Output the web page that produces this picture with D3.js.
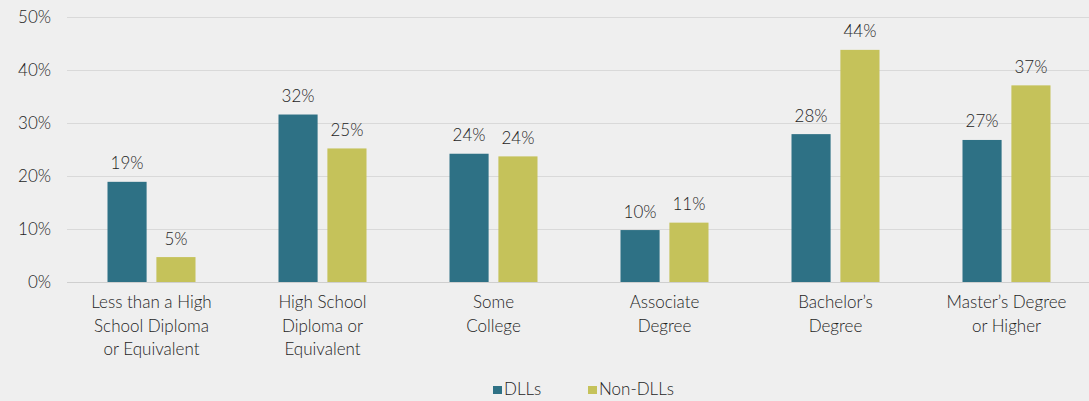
<!DOCTYPE html>
<html>
<head>
<meta charset="utf-8">
<script src="https://cdn.jsdelivr.net/npm/d3@7"></script>
<style>
  html, body { margin: 0; padding: 0; background: #efefef; }
  #chart { width: 1089px; height: 401px; }
  text { font-family: Lato, "Open Sans", sans-serif; font-weight: 300; fill: #1e1e1e; }
</style>
</head>
<body>
<div id="chart"></div>
<script>
// education levels, share of parents
const categories = [
  ['Less than a High', 'School Diploma', 'or Equivalent'],
  ['High School', 'Diploma or', 'Equivalent'],
  ['Some', 'College'],
  ['Associate', 'Degree'],
  ['Bachelor\u2019s', 'Degree'],
  ['Master\u2019s Degree', 'or Higher']
];
const seriesNames = ['DLLs', 'Non-DLLs'];
const dllValues = [18.9, 31.6, 24.2, 9.8, 27.9, 26.8];
const nonDllValues = [4.7, 25.2, 23.7, 11.2, 43.8, 37.1];
const yTicks = [0, 10, 20, 30, 40, 50];

const COLORS = { 'DLLs': '#2e7185', 'Non-DLLs': '#c5c25a' };
const FONT = 'Lato, "Open Sans", sans-serif';

const W = 1089, H = 401;
const svg = d3.select('#chart').append('svg')
  .attr('width', W).attr('height', H);

const x = d3.scaleBand()
  .domain(d3.range(categories.length))
  .range([66, 1092])
  .paddingInner(0).paddingOuter(0);

const xInner = d3.scaleBand()
  .domain(seriesNames)
  .range([0, 88])
  .paddingInner(0.2);

const y = d3.scaleLinear().domain([0, 50]).range([282, 17]);

// grid + y labels
svg.append('g')
  .attr('transform', 'translate(67,0)')
  .call(d3.axisLeft(y).tickValues(yTicks).tickSize(-W).tickFormat(d => d + '%'))
  .call(g => g.select('.domain').remove())
  .call(g => g.selectAll('.tick line').attr('stroke', '#d9d9d9').attr('stroke-width', 1))
  .call(g => g.selectAll('.tick line').filter(d => d === 0).attr('stroke', '#cfcfcf'))
  .call(g => g.selectAll('.tick text')
    .attr('x', -16).attr('font-size', 17)
    .style('font-family', FONT).style('font-weight', 300).attr('fill', '#1e1e1e'));

const rows = categories.map((c, i) => ({ i, values: [
  { key: 'DLLs', value: dllValues[i] },
  { key: 'Non-DLLs', value: nonDllValues[i] }
]}));

const groups = svg.append('g').selectAll('g')
  .data(rows).join('g')
  .attr('transform', d => `translate(${x(d.i) + (x.bandwidth() - 88) / 2},0)`);

groups.selectAll('rect')
  .data(d => d.values).join('rect')
  .attr('x', d => xInner(d.key))
  .attr('width', xInner.bandwidth())
  .attr('y', d => y(d.value))
  .attr('height', d => y(0) - y(d.value))
  .attr('fill', d => COLORS[d.key]);

groups.selectAll('text.val')
  .data(d => d.values).join('text')
  .attr('class', 'val')
  .attr('x', d => xInner(d.key) + xInner.bandwidth() / 2)
  .attr('y', d => y(d.value) - 12.5)
  .attr('text-anchor', 'middle')
  .attr('font-size', 17)
  .text(d => Math.round(d.value) + '%');

// category labels
const xAxis = svg.append('g');
categories.forEach((lines, i) => {
  const cx = x(i) + x.bandwidth() / 2;
  const t = xAxis.append('text')
    .attr('x', cx)
    .attr('y', 308)
    .attr('text-anchor', 'middle')
    .attr('font-size', 17);
  lines.forEach((ln, j) => {
    t.append('tspan')
      .attr('x', cx)
      .attr('dy', j === 0 ? 0 : 23.5)
      .text(ln);
  });
});

// legend
const legend = svg.append('g');
const legendX = [493, 588];
seriesNames.forEach((name, i) => {
  legend.append('rect')
    .attr('x', legendX[i]).attr('y', 386)
    .attr('width', 9).attr('height', 8)
    .attr('fill', COLORS[name]);
  legend.append('text')
    .attr('x', legendX[i] + 11).attr('y', 395)
    .attr('font-size', 17)
    .text(name);
});
</script>
</body>
</html>
